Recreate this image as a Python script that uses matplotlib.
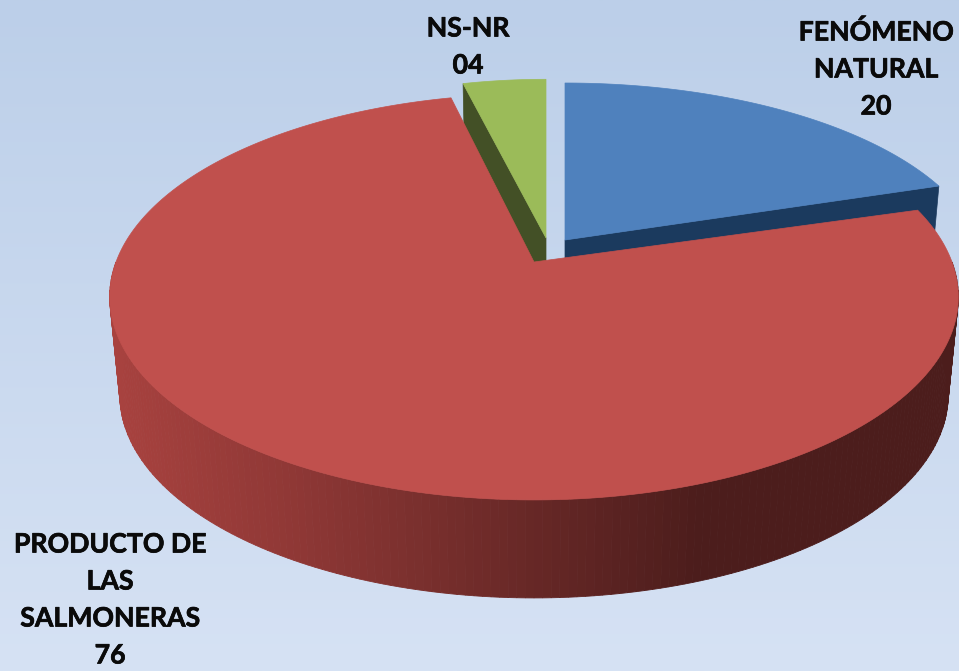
import numpy as np
import matplotlib
matplotlib.use('Agg')
import matplotlib.pyplot as plt
import matplotlib.patheffects as pe_fx
from matplotlib.patches import Polygon
from matplotlib.colors import to_rgb

labels = ['FENÓMENO\nNATURAL', 'PRODUCTO DE\nLAS\nSALMONERAS', 'NS-NR']
values = [20, 76, 4]
top_colors = ['#4f81bd', '#c0504d', '#9bbb59']
side_colors = ['#1b3a5e', '#a8423f', '#435026']
# pixel layout of each exploded slice: apex x, apex y, radius x, radius y, extra turn
layout = [(565, 240, 414, 184, 0.0), (534, 262, 418, 197, 1.5), (546, 238, 389, 186, 0.0)]
label_pos = [(876, 69), (110, 600), (468, 47)]
depth = 98
persp = 0.172

W, H = 959, 671
fig = plt.figure(figsize=(W / 100, H / 100), dpi=100)
ax = fig.add_axes([0, 0, 1, 1])
ax.set_xlim(0, W)
ax.set_ylim(H, 0)
ax.axis('off')

bg_top = np.array(to_rgb('#bccfe9'))
bg_bot = np.array(to_rgb('#d6e2f4'))
bg = np.linspace(0, 1, 256)[:, None, None] * (bg_bot - bg_top) + bg_top
ax.imshow(bg, extent=[0, W, H, 0], aspect='auto', zorder=0)


def project(deg, cx, cy, rx, ry, dz=0, shrink=1.0):
    # disc point to screen, far edge is foreshortened
    a = np.radians(deg)
    x, y = np.sin(a), np.cos(a)
    w = 1 + persp * y
    return cx + rx * shrink * x / w, cy + dz - ry * y / w


def arc(d0, d1, cx, cy, rx, ry, dz=0, shrink=1.0):
    d = np.linspace(d0, d1, 300)
    px, py = project(d, cx, cy, rx, ry, dz, shrink)
    return np.column_stack([px, py])


bottom_shrink = 408 / 418
edges = np.cumsum([0] + values) / sum(values) * 360

order = [2, 0, 1]  # back slices first, red sits over the cut faces
for i in order:
    cx, cy, rx, ry, turn = layout[i]
    d0, d1 = edges[i] + turn, edges[i + 1]
    if i == 1:
        d0 = edges[1] + 2.0
        d1 = edges[2] + 1.0

    if i == 1:
        # rim, shaded slice by slice from left to right
        dd = np.linspace(90, 270, 181)
        dark = np.array(to_rgb('#4c1d1c'))
        light = np.array(to_rgb(side_colors[1]))
        stops_x = [110, 290, 500, 700, 960]
        stops_t = [0.0, 0.27, 0.65, 1.0, 1.0]
        for a, b in zip(dd[:-1], dd[1:]):
            t0 = arc(a, b, cx, cy, rx, ry, 0, 1.0)
            b0 = arc(b, a, cx, cy, rx, ry, depth, bottom_shrink)
            t = np.interp(t0[:, 0].mean(), stops_x, stops_t)
            col = light + (dark - light) * t
            ax.add_patch(Polygon(np.vstack([t0, b0]), closed=True, fc=col, ec=col, lw=0.6, zorder=2))
    else:
        # cut face of the small slices, the red slice hides its lower part
        end = d1 if i == 0 else d0
        pe = np.array(project(end, cx, cy, rx, ry))
        pe2 = np.array(project(end, cx, cy, rx, ry, depth, bottom_shrink))
        ax.add_patch(Polygon([(cx, cy), pe, pe2, (cx, cy + depth)], closed=True,
                             fc=side_colors[i], ec=side_colors[i], lw=0.5, zorder=1))

    pts = np.vstack([[(cx, cy)], arc(d0, d1, cx, cy, rx, ry)])
    ax.add_patch(Polygon(pts, closed=True, fc=top_colors[i], ec=top_colors[i], lw=0.5,
                         zorder=3 if i == 1 else 1.5))

for name, val, (lx, ly) in zip(labels, values, label_pos):
    t = ax.text(lx, ly, '{}\n{:02d}'.format(name, val), ha='center', va='center', family='Lato',
                fontweight='bold', fontsize=19.2, color='#0a0a0a', linespacing=1.65, zorder=5)
    t.set_path_effects([pe_fx.withStroke(linewidth=0.5, foreground='#0a0a0a')])

fig.savefig('out.png', dpi=100)
